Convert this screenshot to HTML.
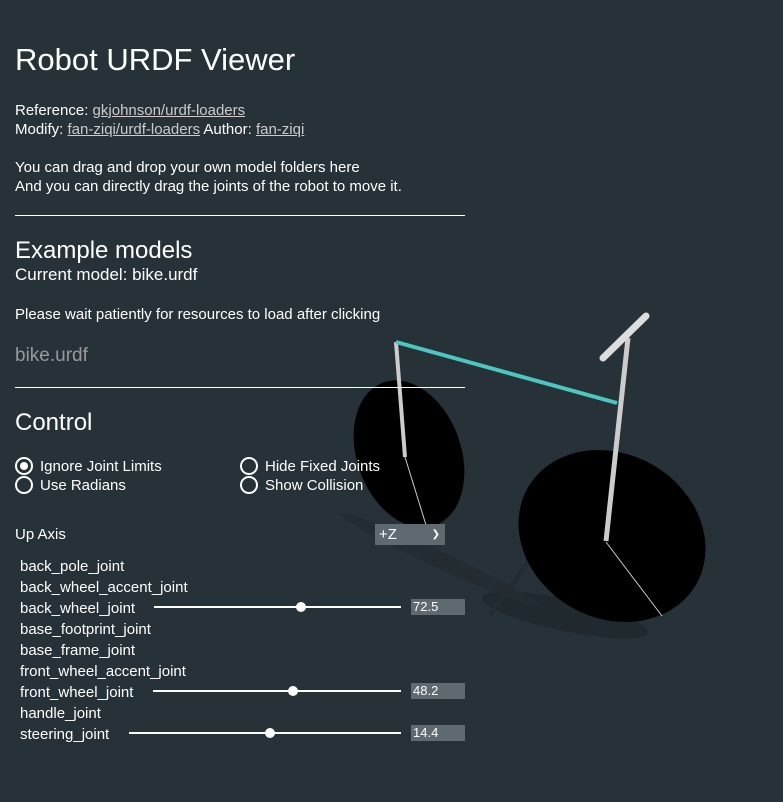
<!DOCTYPE html>
<html><head><meta charset="utf-8"><style>
body{margin:0;width:783px;height:802px;background:#263238;overflow:hidden;font-family:"Liberation Sans",sans-serif;color:#fff;position:relative}
.t{position:absolute;white-space:nowrap}
a{color:#ccc;text-decoration:underline}
.hr{position:absolute;left:15px;width:450px;height:1px;background:#fff}
.rad{position:absolute;width:14px;height:14px;border:2px solid #fff;border-radius:50%}
.rad.on::after{content:"";position:absolute;left:3px;top:3px;width:8px;height:8px;border-radius:50%;background:#fff}
.sl{position:absolute;height:2px;background:#fff}
.kn{position:absolute;width:10px;height:10px;border-radius:50%;background:#fff}
.inp{position:absolute;left:411px;width:54px;height:16px;background:#5f6a70;font-size:13px;line-height:16px;padding-left:2px;box-sizing:border-box}
.j{font-size:15px;left:20px}
</style></head><body>
<svg width="783" height="802" style="position:absolute;left:0;top:0">
<ellipse cx="565" cy="615" rx="85" ry="16" transform="rotate(12 565 615)" fill="#1f292e"/>
<ellipse cx="440" cy="560" rx="110" ry="8" transform="rotate(25 440 560)" fill="#222c31"/>
<line x1="530" y1="560" x2="490" y2="615" stroke="#222c31" stroke-width="5"/>
<ellipse cx="409" cy="454" rx="52" ry="76" transform="rotate(-20 409 454)" fill="#000"/>
<ellipse cx="612" cy="536" rx="97" ry="82" transform="rotate(30 612 536)" fill="#000"/>
<line x1="405" y1="457" x2="426" y2="525" stroke="#ccc" stroke-width="1"/>
<line x1="606" y1="542" x2="662" y2="616" stroke="#ccc" stroke-width="1"/>
<line x1="396" y1="342" x2="405" y2="457" stroke="#ccc" stroke-width="4"/>
<line x1="628" y1="338" x2="606" y2="541" stroke="#ccc" stroke-width="5"/>
<line x1="396" y1="342" x2="617" y2="403" stroke="#4cc6c0" stroke-width="4"/>
<line x1="603" y1="358" x2="646" y2="316" stroke="#ddd" stroke-width="7" stroke-linecap="round"/>
</svg>
<div class="t" style="left:15px;top:42px;font-size:31px">Robot URDF Viewer</div>
<div class="t" style="left:15px;top:101px;font-size:15px;line-height:19px">Reference: <a>gkjohnson/urdf-loaders</a><br>Modify: <a>fan-ziqi/urdf-loaders</a> Author: <a>fan-ziqi</a></div>
<div class="t" style="left:15px;top:158px;font-size:15px;line-height:19px">You can drag and drop your own model folders here<br>And you can directly drag the joints of the robot to move it.</div>
<div class="hr" style="top:215px"></div>
<div class="t" style="left:15px;top:237px;font-size:24px">Example models</div>
<div class="t" style="left:15px;top:265px;font-size:17px">Current model: bike.urdf</div>
<div class="t" style="left:15px;top:306px;font-size:15px">Please wait patiently for resources to load after clicking</div>
<div class="t" style="left:15px;top:345px;font-size:19px;color:#999">bike.urdf</div>
<div class="hr" style="top:387px"></div>
<div class="t" style="left:15px;top:409px;font-size:24px">Control</div>
<div class="rad on" style="left:15px;top:457px"></div>
<div class="rad" style="left:15px;top:476px"></div>
<div class="rad" style="left:240px;top:457px"></div>
<div class="rad" style="left:240px;top:476px"></div>
<div class="t" style="left:40px;top:457px;font-size:15px;line-height:19px">Ignore Joint Limits<br>Use Radians</div>
<div class="t" style="left:265px;top:457px;font-size:15px;line-height:19px">Hide Fixed Joints<br>Show Collision</div>
<div class="t" style="left:15px;top:526px;font-size:15px">Up Axis</div>
<div class="t" style="left:375px;top:524px;width:70px;height:21px;background:#5f6a70;font-size:15px;line-height:21px;padding-left:4px;box-sizing:border-box">+Z<span style="position:absolute;right:5px;font-size:10px">&#10095;</span></div>
<div class="t j" style="top:558px">back_pole_joint</div>
<div class="t j" style="top:579px">back_wheel_accent_joint</div>
<div class="t j" style="top:600px">back_wheel_joint</div>
<div class="t j" style="top:621px">base_footprint_joint</div>
<div class="t j" style="top:642px">base_frame_joint</div>
<div class="t j" style="top:663px">front_wheel_accent_joint</div>
<div class="t j" style="top:684px">front_wheel_joint</div>
<div class="t j" style="top:705px">handle_joint</div>
<div class="t j" style="top:726px">steering_joint</div>
<div class="sl" style="left:154px;width:247px;top:606px"></div><div class="kn" style="left:296px;top:602px"></div>
<div class="sl" style="left:153px;width:248px;top:690px"></div><div class="kn" style="left:288px;top:686px"></div>
<div class="sl" style="left:129px;width:272px;top:732px"></div><div class="kn" style="left:265px;top:728px"></div>
<div class="inp" style="top:599px">72.5</div>
<div class="inp" style="top:683px">48.2</div>
<div class="inp" style="top:725px">14.4</div>
</body></html>
